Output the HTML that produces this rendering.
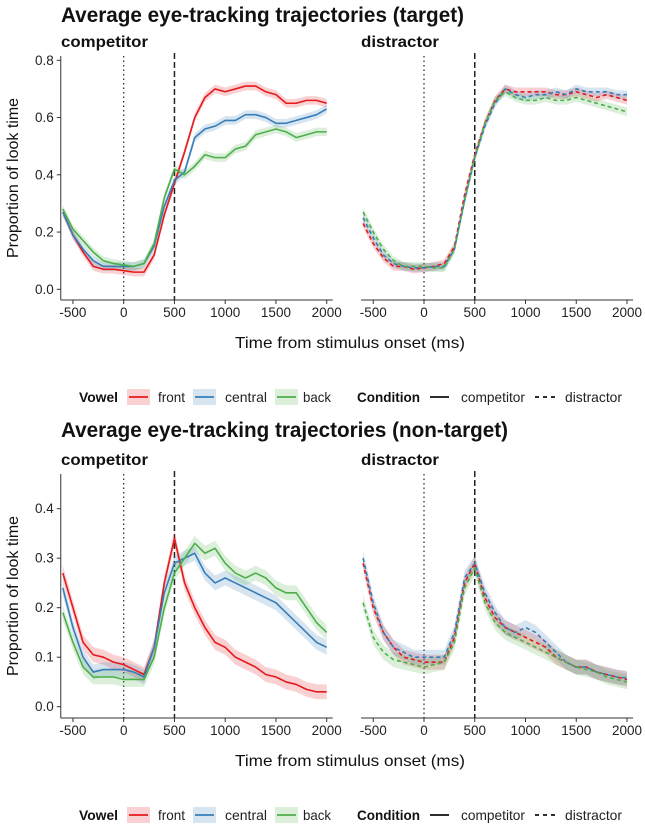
<!DOCTYPE html>
<html><head><meta charset="utf-8">
<style>
body{margin:0;background:#fff;}
svg{display:block;font-family:"Liberation Sans",Arial,sans-serif;}
</style></head>
<body>
<svg id="chart" width="645" height="826" viewBox="0 0 645 826"></svg>
<script>
const times=[-600,-500,-400,-300,-200,-100,0,100,200,300,400,500,600,700,800,900,1000,1100,1200,1300,1400,1500,1600,1700,1800,1900,2000];
const vowels=["front","central","back"];
const xTicks=[-500,0,500,1000,1500,2000];
const yTicksTop=[0,0.2,0.4,0.6,0.8];
const yTicksBottom=[0,0.1,0.2,0.3,0.4];
// target, competitor
const tgtCompFront=[0.27,0.19,0.13,0.08,0.07,0.07,0.065,0.06,0.06,0.12,0.26,0.37,0.48,0.60,0.67,0.70,0.69,0.70,0.71,0.71,0.69,0.68,0.65,0.65,0.66,0.66,0.65];
const tgtCompCentral=[0.27,0.19,0.14,0.10,0.08,0.08,0.08,0.08,0.09,0.15,0.29,0.38,0.41,0.53,0.56,0.57,0.59,0.59,0.61,0.61,0.60,0.58,0.58,0.59,0.60,0.61,0.63];
const tgtCompBack=[0.28,0.21,0.17,0.13,0.10,0.09,0.085,0.08,0.09,0.16,0.32,0.42,0.40,0.43,0.47,0.46,0.46,0.49,0.50,0.54,0.55,0.56,0.55,0.53,0.54,0.55,0.55];
// target, distractor
const tgtDistFront=[0.23,0.16,0.11,0.08,0.08,0.07,0.075,0.08,0.09,0.15,0.33,0.47,0.58,0.66,0.70,0.69,0.69,0.69,0.69,0.68,0.68,0.69,0.68,0.67,0.68,0.67,0.66];
const tgtDistCentral=[0.25,0.18,0.12,0.09,0.08,0.075,0.075,0.08,0.08,0.14,0.31,0.46,0.57,0.65,0.70,0.68,0.67,0.68,0.68,0.69,0.68,0.70,0.69,0.69,0.69,0.68,0.68];
const tgtDistBack=[0.27,0.20,0.14,0.10,0.08,0.08,0.08,0.075,0.075,0.14,0.31,0.46,0.58,0.66,0.69,0.67,0.66,0.66,0.67,0.66,0.66,0.67,0.66,0.65,0.64,0.63,0.62];
// non-target, competitor
const ntCompFront=[0.27,0.20,0.13,0.105,0.10,0.09,0.085,0.075,0.065,0.12,0.25,0.34,0.25,0.20,0.16,0.13,0.12,0.10,0.09,0.08,0.065,0.06,0.05,0.045,0.035,0.03,0.03];
const ntCompCentral=[0.24,0.16,0.10,0.07,0.075,0.075,0.075,0.07,0.06,0.12,0.23,0.29,0.30,0.31,0.27,0.25,0.26,0.25,0.24,0.23,0.22,0.21,0.19,0.17,0.15,0.13,0.12];
const ntCompBack=[0.19,0.13,0.08,0.06,0.06,0.06,0.055,0.055,0.055,0.10,0.20,0.27,0.30,0.33,0.31,0.32,0.29,0.27,0.26,0.27,0.26,0.24,0.23,0.23,0.20,0.17,0.15];
// non-target, distractor
const ntDistFront=[0.29,0.20,0.15,0.12,0.10,0.095,0.09,0.09,0.09,0.14,0.25,0.29,0.22,0.18,0.16,0.15,0.14,0.13,0.12,0.10,0.09,0.08,0.08,0.07,0.065,0.06,0.055];
const ntDistCentral=[0.30,0.21,0.15,0.12,0.11,0.10,0.10,0.10,0.10,0.15,0.26,0.29,0.23,0.19,0.16,0.15,0.16,0.15,0.13,0.11,0.09,0.08,0.08,0.07,0.065,0.06,0.058];
const ntDistBack=[0.21,0.14,0.11,0.095,0.09,0.085,0.08,0.085,0.09,0.13,0.24,0.28,0.21,0.17,0.15,0.14,0.13,0.12,0.11,0.10,0.09,0.08,0.075,0.07,0.06,0.055,0.05];

const colors={front:"#e41a1c",central:"#377eb8",back:"#4daf4a"};
const NS="http://www.w3.org/2000/svg";
const svg=document.getElementById("chart");
function mk(tag,attrs,parent,text){const e=document.createElementNS(NS,tag);for(const k in attrs)e.setAttribute(k,attrs[k]);if(text!==undefined)e.textContent=text;(parent||svg).appendChild(e);return e;}

function panel(opts){
  const g=mk("g",{});
  
  
  const xs=t=>opts.x0+(t)*0.1015;
  const ys=v=>opts.yZero-v*opts.yScale;
  const left=xs(-620), right=xs(2060);
  const xa=mk("line",{x1:left,x2:right,y1:opts.axisY,y2:opts.axisY,stroke:"#333","stroke-width":1},g);
  
  
  xTicks.forEach(t=>{
    mk("line",{x1:xs(t),x2:xs(t),y1:opts.axisY,y2:opts.axisY+4,stroke:"#333"},g);
    const tl=mk("text",{x:xs(t),y:opts.axisY+17,"text-anchor":"middle","font-size":13.5,fill:"#222"},g,String(t));
    
    
  });
  if(opts.yAxis){
    const ya=mk("line",{x1:left,x2:left,y1:opts.axisTop,y2:opts.axisY,stroke:"#333","stroke-width":1},g);
    
    
    opts.yTicks.forEach(v=>{
      mk("line",{x1:left-4,x2:left,y1:ys(v),y2:ys(v),stroke:"#333"},g);
      const tl=mk("text",{x:left-7,y:ys(v)+4.5,"text-anchor":"end","font-size":13.5,fill:"#222"},g,v.toFixed(1));
      
      
    });
  }
  mk("line",{x1:xs(0),x2:xs(0),y1:opts.axisTop,y2:opts.axisY,stroke:"#222","stroke-width":1.2,"stroke-dasharray":"1.5,3"},g);
  mk("line",{x1:xs(500),x2:xs(500),y1:opts.axisTop-3,y2:opts.axisY,stroke:"#222","stroke-width":1.5,"stroke-dasharray":"6,3"},g);
  const se=opts.se;
  opts.series.forEach((vals,i)=>{
    const v=vowels[i];
    let up=times.map((t,j)=>xs(t)+","+ys(vals[j]+se)).join(" ");
    let dn=times.map((t,j)=>xs(t)+","+ys(vals[j]-se)).reverse().join(" ");
    const rb=mk("polygon",{points:up+" "+dn,fill:colors[v],"fill-opacity":0.2,stroke:"none"},g);
    
    
  });
  opts.series.forEach((vals,i)=>{
    const v=vowels[i];
    const pts=times.map((t,j)=>xs(t)+","+ys(vals[j])).join(" ");
    const a={points:pts,fill:"none",stroke:colors[v],"stroke-width":1.6,"stroke-linejoin":"round"};
    if(opts.dashed)a["stroke-dasharray"]="4,3";
    const ln=mk("polyline",a,g);
    
    
  });
  const st=mk("text",{x:opts.labelX,y:opts.labelY,"font-size":16,"font-weight":"bold",fill:"#111",textLength:opts.labelW,lengthAdjust:"spacingAndGlyphs"},g,opts.label);
  
  
}

function block(top,titleY,yZero,yScale,yTicks,comp,dist,title,titleW,idx){
  const t=mk("text",{x:61,y:titleY,"font-size":21,"font-weight":"bold",fill:"#111",textLength:titleW,lengthAdjust:"spacingAndGlyphs"},svg,title);
  
  
  const axisTop=top+56, axisY=top+300;
  panel({name:"panel-competitor-"+idx,x0:123.7,yZero,yScale,yTicks,axisTop,axisY,yAxis:true,series:comp,dashed:false,se:0.015,label:"competitor",labelX:61,labelY:top+47,labelW:87});
  panel({name:"panel-distractor-"+idx,x0:424,yZero,yScale,yTicks,axisTop,axisY,yAxis:false,series:dist,dashed:true,se:0.015,label:"distractor",labelX:361,labelY:top+47,labelW:78});
  const yl=mk("text",{x:0,y:0,"font-size":16,fill:"#111","text-anchor":"middle",transform:`translate(18,${(axisTop+axisY)/2}) rotate(-90)`},svg,"Proportion of look time");
  
  
  const xl=mk("text",{x:235,y:axisY+48,"font-size":16,fill:"#111",textLength:230,lengthAdjust:"spacingAndGlyphs"},svg,"Time from stimulus onset (ms)");
  
  
  const ly=axisY+97;
  const lg=mk("g",{},svg);
  
  
  mk("text",{x:79,y:ly+5,"font-size":14,"font-weight":"bold",fill:"#111",textLength:39,lengthAdjust:"spacingAndGlyphs"},lg,"Vowel");
  const keys=[["front",127,158,27],["central",193,225,42],["back",275,303,28]];
  keys.forEach(k=>{
    const e=mk("g",{},lg);
    
    
    mk("rect",{x:k[1],y:ly-8,width:23,height:16,fill:colors[k[0]],"fill-opacity":0.2},e);
    mk("line",{x1:k[1]+2,x2:k[1]+21,y1:ly,y2:ly,stroke:colors[k[0]],"stroke-width":1.8},e);
    mk("text",{x:k[2],y:ly+5,"font-size":14,fill:"#222",textLength:k[3],lengthAdjust:"spacingAndGlyphs"},e,k[0]);
  });
  mk("text",{x:357,y:ly+5,"font-size":14,"font-weight":"bold",fill:"#111",textLength:63,lengthAdjust:"spacingAndGlyphs"},lg,"Condition");
  const c1=mk("g",{},lg);
  
  
  mk("line",{x1:430,x2:449,y1:ly,y2:ly,stroke:"#111","stroke-width":1.8},c1);
  mk("text",{x:461,y:ly+5,"font-size":14,fill:"#222",textLength:64,lengthAdjust:"spacingAndGlyphs"},c1,"competitor");
  const c2=mk("g",{},lg);
  
  
  mk("line",{x1:535,x2:557,y1:ly,y2:ly,stroke:"#111","stroke-width":1.8,"stroke-dasharray":"4,4"},c2);
  mk("text",{x:565,y:ly+5,"font-size":14,fill:"#222",textLength:57,lengthAdjust:"spacingAndGlyphs"},c2,"distractor");
}

block(0,22,289.3,286.25,yTicksTop,[tgtCompFront,tgtCompCentral,tgtCompBack],[tgtDistFront,tgtDistCentral,tgtDistBack],"Average eye-tracking trajectories (target)",403,1);
block(418,437,706.7,495,yTicksBottom,[ntCompFront,ntCompCentral,ntCompBack],[ntDistFront,ntDistCentral,ntDistBack],"Average eye-tracking trajectories (non-target)",447,2);
</script>
</body></html>
